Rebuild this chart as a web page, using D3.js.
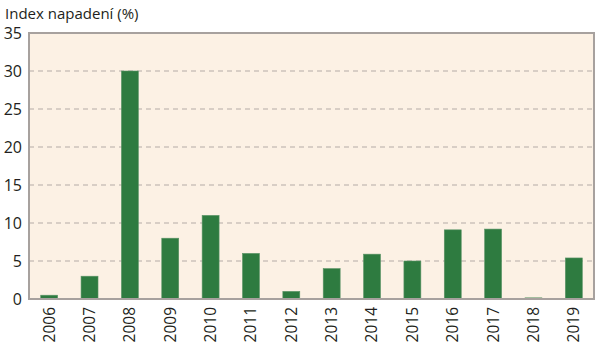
<!DOCTYPE html>
<html>
<head>
<meta charset="utf-8">
<script src="https://cdn.jsdelivr.net/npm/d3@7"></script>
<style>
  html, body { margin: 0; padding: 0; background: #fff; }
  svg { display: block; }
  text { font-family: "Open Sans", "Noto Sans", sans-serif; fill: #231f20; }
</style>
</head>
<body>
<svg id="chart" width="600" height="346"></svg>
<script>
// Infestation index by year
const years = ["2006","2007","2008","2009","2010","2011","2012","2013","2014","2015","2016","2017","2018","2019"];
const indexValues = [0.5, 3, 30, 8, 11, 6, 1, 4, 5.9, 5, 9.1, 9.2, 0.15, 5.4];
const yTicks = [0, 5, 10, 15, 20, 25, 30, 35];
const yTitle = "Index napadení (%)";

const margin = { left: 29, right: 6, top: 33, bottom: 47 };
const W = 600, H = 346;
const svg = d3.select("#chart");

const x = d3.scaleBand()
  .domain(years)
  .range([margin.left, W - margin.right])
  .paddingInner(0.58)
  .paddingOuter(0.29);

const y = d3.scaleLinear()
  .domain([0, 35])
  .range([H - margin.bottom, margin.top]);

// plot background
svg.append("rect")
  .attr("x", margin.left).attr("y", margin.top)
  .attr("width", W - margin.right - margin.left)
  .attr("height", y(0) - margin.top)
  .attr("fill", "#fcf1e4");

// dashed grid lines
svg.append("g")
  .selectAll("line")
  .data(yTicks.filter(t => t > 0 && t < 35))
  .join("line")
  .attr("x1", margin.left).attr("x2", W - margin.right)
  .attr("y1", d => y(d)).attr("y2", d => y(d))
  .attr("stroke", "#b3aba6")
  .attr("stroke-width", 1.2)
  .attr("stroke-dasharray", "5,4");

// bars
svg.append("g")
  .selectAll("rect")
  .data(years)
  .join("rect")
  .attr("x", d => x(d))
  .attr("width", x.bandwidth())
  .attr("y", (d, i) => y(indexValues[i]))
  .attr("height", (d, i) => y(0) - y(indexValues[i]))
  .attr("fill", "#2e7b40")
  .attr("stroke", "#5a9366")
  .attr("stroke-width", 0.6);

// frame
svg.append("rect")
  .attr("x", margin.left).attr("y", margin.top)
  .attr("width", W - margin.right - margin.left)
  .attr("height", y(0) - margin.top)
  .attr("fill", "none")
  .attr("stroke", "#a7a19e")
  .attr("stroke-width", 2);

// y axis
const yAxis = svg.append("g")
  .attr("transform", `translate(${margin.left},0)`)
  .call(d3.axisLeft(y).tickValues(yTicks).tickSize(0).tickPadding(7));
yAxis.select(".domain").remove();
yAxis.selectAll("text")
  .attr("font-size", 16)
  .attr("font-family", "Open Sans, Noto Sans, sans-serif")
  .attr("fill", "#231f20");

// x axis with rotated year labels
const xAxis = svg.append("g")
  .attr("transform", `translate(0,${y(0)})`)
  .call(d3.axisBottom(x).tickSize(0));
xAxis.select(".domain").remove();
xAxis.selectAll("text")
  .attr("font-size", 15.5)
  .attr("font-family", "Open Sans, Noto Sans, sans-serif")
  .attr("fill", "#231f20")
  .attr("transform", "rotate(-90)")
  .attr("text-anchor", "end")
  .attr("x", -8)
  .attr("y", 0)
  .attr("dy", "0.35em");

// title
svg.append("text")
  .attr("x", 5).attr("y", 19)
  .attr("font-size", 15)
  .text(yTitle);
</script>
</body>
</html>
